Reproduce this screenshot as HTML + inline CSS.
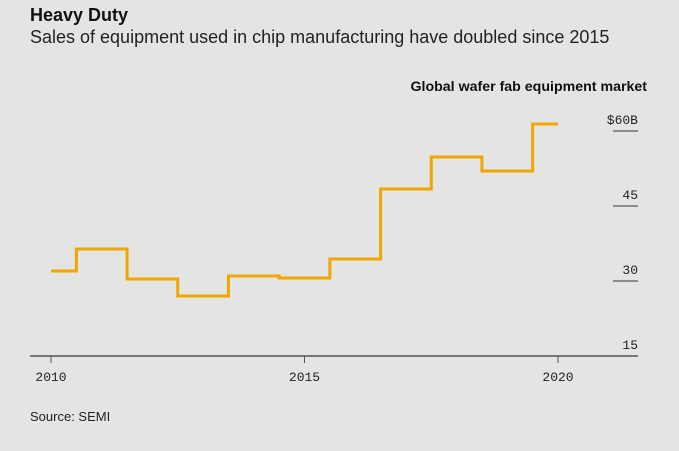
<!DOCTYPE html>
<html><head><meta charset="utf-8">
<style>
body{margin:0;background:#e4e5e3;width:679px;height:451px;overflow:hidden;font-family:"Liberation Sans",sans-serif;}
.t{position:absolute;left:30px;top:5px;font-size:18px;font-weight:bold;color:#111;}
.s{position:absolute;left:30px;top:27px;font-size:18px;color:#222;}
.src{position:absolute;left:30px;top:409px;font-size:13px;color:#222;}
</style></head><body>
<div class="t">Heavy Duty</div>
<div class="s">Sales of equipment used in chip manufacturing have doubled since 2015</div>
<svg id="c" width="679" height="451" style="position:absolute;left:0;top:0">
<text x="647" y="91" text-anchor="end" font-family="Liberation Sans" font-weight="bold" font-size="14.2" fill="#111">Global wafer fab equipment market</text>
</svg>
<div class="src">Source: SEMI</div>
<script>
const years=[2010,2011,2012,2013,2014,2015,2016,2017,2018,2019,2020];
const values=[32,36.4,30.4,27,31,30.6,34.4,48.4,54.8,52,61.4];
const yTicks=[15,30,45,60];
const yTickLabels=["15","30","45","$60B"];
const xTicks=[2010,2015,2020];
const svg=document.getElementById('c');
const NS='http://www.w3.org/2000/svg';
const x=v=>51+(v-2010)*50.7;
const y=v=>356-(v-15)*5.0;
function mk(t,a){const e=document.createElementNS(NS,t);for(const k in a)e.setAttribute(k,a[k]);svg.appendChild(e);return e;}
yTicks.forEach((t,i)=>{
  if(i>0){const l=mk('line',{x1:613,x2:638,y1:y(t),y2:y(t),stroke:'#333','stroke-width':1});
  
  }
  const tx=mk('text',{x:638,y:y(t)-7,'text-anchor':'end','font-family':'Liberation Mono','font-size':13,fill:'#222'});
  tx.textContent=yTickLabels[i];
  
  
});
const base=mk('line',{x1:30,x2:638,y1:y(15),y2:y(15),stroke:'#555','stroke-width':1.5});


xTicks.forEach(t=>{
  const l=mk('line',{x1:x(t),x2:x(t),y1:y(15),y2:y(15)+7,stroke:'#555','stroke-width':1});
  
  
  const tx=mk('text',{x:x(t),y:y(15)+25,'text-anchor':'middle','font-family':'Liberation Mono','font-size':13,fill:'#222'});
  tx.textContent=t;
  
  
});
let d='';
years.forEach((yr,i)=>{
  const x0=i===0?x(yr):x(yr-0.5);
  const x1=i===years.length-1?x(yr):x(yr+0.5);
  d+=(i===0?'M':'L')+x0+','+y(values[i])+'L'+x1+','+y(values[i]);
});
const p=mk('path',{d:d,fill:'none',stroke:'#f0a500','stroke-width':3});


</script>
</body></html>
